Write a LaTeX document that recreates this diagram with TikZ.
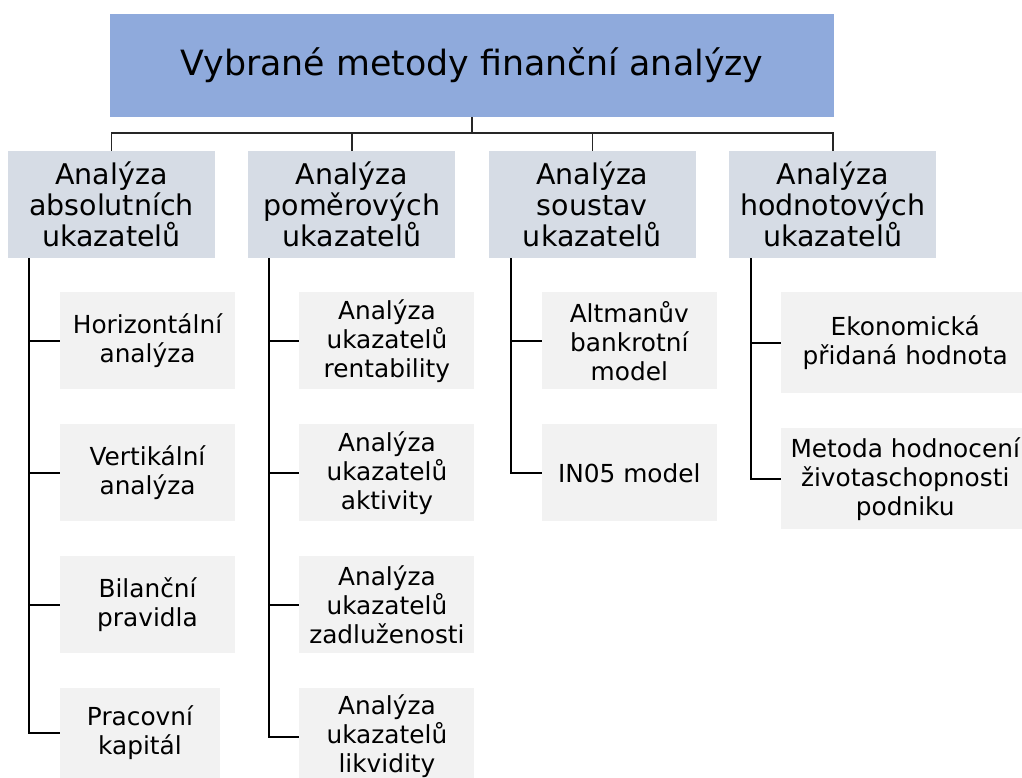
\documentclass[tikz,border=0pt]{standalone}
\usepackage{fontspec}
\setmainfont{DejaVu Sans}
\usetikzlibrary{positioning}
\definecolor{titleblue}{RGB}{143,170,220}
\definecolor{groupgray}{RGB}{214,220,229}
\definecolor{methodgray}{RGB}{242,242,242}

\begin{document}
\begin{tikzpicture}[
    x=1pt, y=1pt,
    node distance=34.5pt and 33pt,
    % hlavní box
    titlebox/.style={
        rectangle, fill=titleblue, inner sep=0pt,
        minimum width=724pt, minimum height=103pt,
        font=\fontsize{34.8}{40}\selectfont
    },
    % skupiny metod
    groupbox/.style={
        rectangle, fill=groupgray, inner sep=0pt,
        minimum width=207pt, minimum height=107pt,
        align=center, font=\fontsize{28.5}{31}\selectfont
    },
    % jednotlivé metody
    methodbox/.style={
        rectangle, fill=methodgray, inner sep=0pt,
        minimum width=175pt, minimum height=97pt,
        align=center, font=\fontsize{24.8}{29}\selectfont
    },
    % spojnice
    link/.style={draw=black!85, line width=1.6pt},
    spine/.style={draw=black, line width=2.2pt},
]
\useasboundingbox (0,0) rectangle (1022,-778);

% ==================== hlavní uzel ====================
\node[titlebox] (title) at (472,-65.5) {Vybrané metody finanční analýzy};

% ==================== skupiny ====================
\node[groupbox] (absol) at (111.5,-204.5) {Analýza\\absolutních\\ukazatelů};
\node[groupbox, right=of absol] (pomer) {Analýza\\poměrových\\ukazatelů};
\node[groupbox, right=of pomer] (soust) {Analýza\\soustav\\ukazatelů};
\node[groupbox, right=of soust] (hodn) {Analýza\\hodnotových\\ukazatelů};

% ==================== metody ====================
\node[methodbox, anchor=north west] (horiz) at ([xshift=52pt,yshift=-34pt]absol.south west) {Horizontální\\analýza};
\node[methodbox, below=of horiz] (vert) {Vertikální\\analýza};
\node[methodbox, below=of vert] (bilan) {Bilanční\\pravidla};
\node[methodbox, below=of bilan.south west, anchor=north west, minimum width=160pt, minimum height=90pt] (prac) {Pracovní\\kapitál};

\node[methodbox, anchor=north west] (rent) at ([xshift=51pt,yshift=-34pt]pomer.south west) {Analýza\\ukazatelů\\rentability};
\node[methodbox, below=of rent] (aktiv) {Analýza\\ukazatelů\\aktivity};
\node[methodbox, below=of aktiv] (zadl) {Analýza\\ukazatelů\\zadluženosti};
\node[methodbox, below=of zadl] (likv) {Analýza\\ukazatelů\\likvidity};

\node[methodbox, anchor=north west] (altman) at ([xshift=53pt,yshift=-34pt]soust.south west) {Altmanův\\bankrotní\\model};
\node[methodbox, below=of altman] (inmod) {IN05 model};

\node[methodbox, anchor=north west, minimum width=248pt, minimum height=101pt] (eva) at ([xshift=52pt,yshift=-34pt]hodn.south west) {Ekonomická\\přidaná hodnota};
\node[methodbox, below=of eva, minimum width=248pt, minimum height=101pt] (zivot) {Metoda hodnocení\\životaschopnosti\\podniku};

% ==================== spojnice ====================
\coordinate[below=16pt of title.south] (bus);
\foreach \g in {absol,pomer,soust,hodn}
    \draw[link] (title.south) -- (bus) -| (\g.north);

\foreach \m in {horiz,vert,bilan,prac}
    \draw[spine] ([xshift=21pt]absol.south west) |- (\m.west);
\foreach \m in {rent,aktiv,zadl,likv}
    \draw[spine] ([xshift=21pt]pomer.south west) |- (\m.west);
\foreach \m in {altman,inmod}
    \draw[spine] ([xshift=22pt]soust.south west) |- (\m.west);
\foreach \m in {eva,zivot}
    \draw[spine] ([xshift=22pt]hodn.south west) |- (\m.west);

\end{tikzpicture}
\end{document}
